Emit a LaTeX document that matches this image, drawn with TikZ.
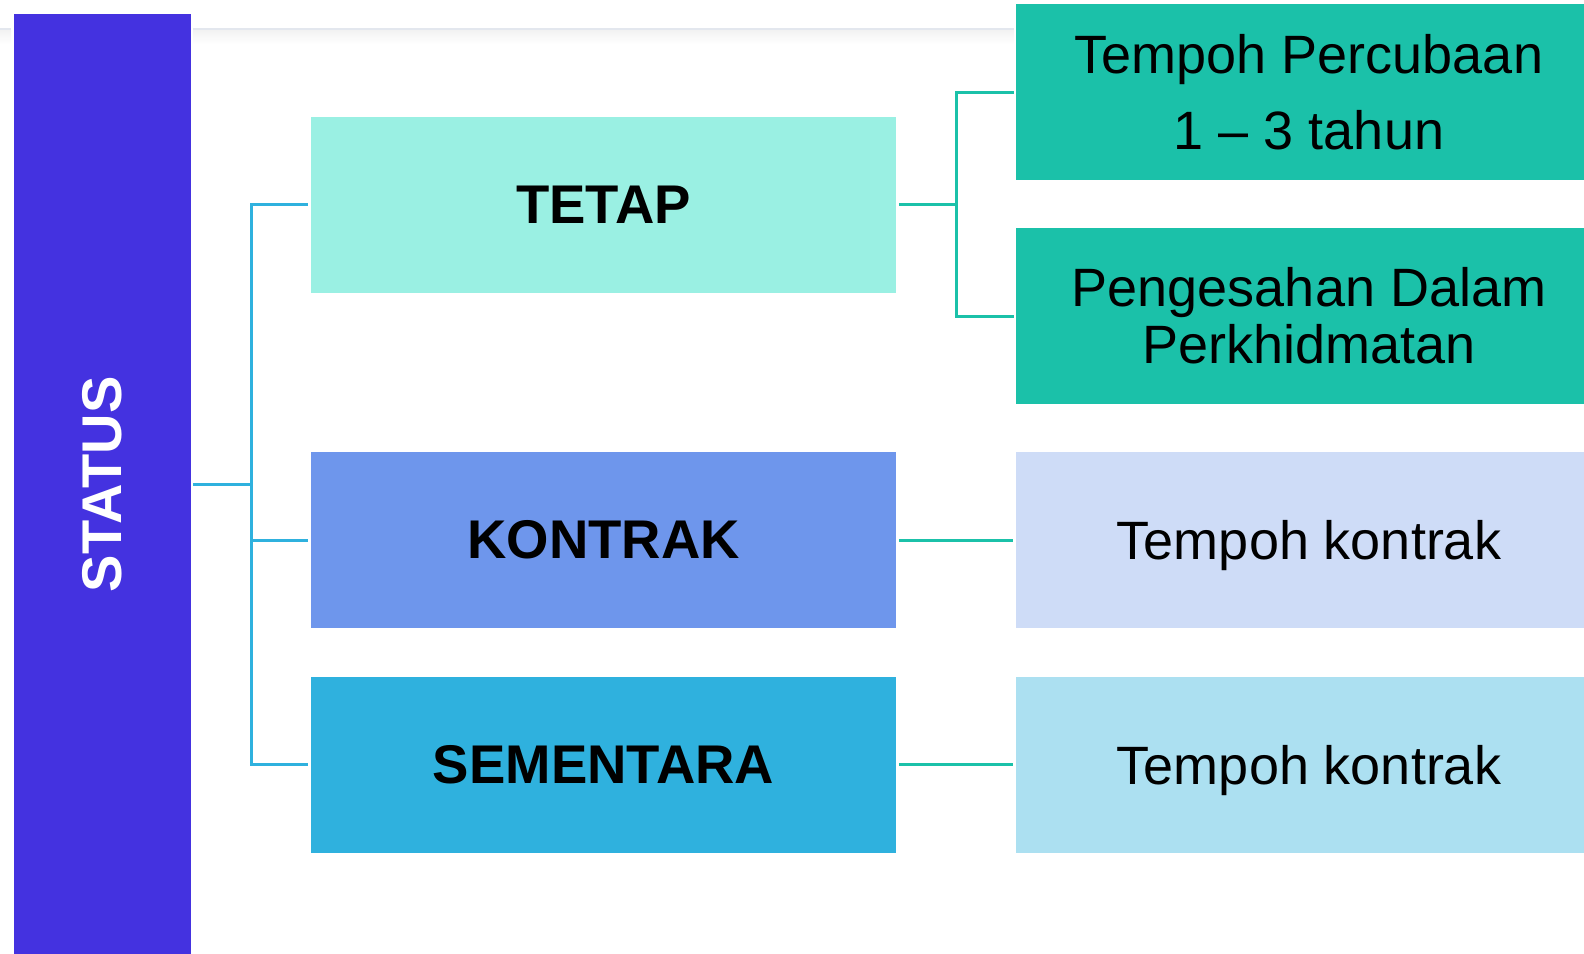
\documentclass[tikz,border=0pt]{standalone}
\usepackage{fontspec}
\setmainfont{Liberation Sans}
\definecolor{statusc}{HTML}{4432E0}
\definecolor{tetapc}{HTML}{9AF0E3}
\definecolor{kontrakc}{HTML}{6E96EC}
\definecolor{sementarac}{HTML}{2FB1DE}
\definecolor{tealc}{HTML}{1BC1A9}
\definecolor{kontraklt}{HTML}{CEDCF7}
\definecolor{sementaralt}{HTML}{ACE0F1}
\definecolor{linkblue}{HTML}{2FB1DE}
\definecolor{linkteal}{HTML}{1BC1A9}
\definecolor{rulegray}{HTML}{E3E7EE}
\begin{document}
\begin{tikzpicture}
[x=1pt,y=-1pt,%
  every node/.style={shape=rectangle,inner sep=0pt,align=center,
    font=\fontsize{54}{76}\selectfont},%
  kind/.style={minimum width=585pt,minimum height=176pt,
    font=\fontsize{54.5}{76}\selectfont\bfseries},%
  detail/.style={minimum width=586pt,minimum height=176pt},%
  blink/.style={draw=linkblue,line width=3pt},%
  tlink/.style={draw=linkteal,line width=3pt}]
\useasboundingbox (0,0) rectangle (1584,953);
\shade[top color=black!5,bottom color=white] (0,30) rectangle (11,44) (193,30) rectangle (1014,44);
\draw[rulegray,line width=2.5pt] (0,29) -- (11,29) (193,29) -- (1014,29);
\node[fill=statusc,minimum width=176.5pt,minimum height=941pt,text=white,
  font=\fontsize{56}{76}\selectfont\bfseries] (status) at (102.25,484.5) {\rotatebox{90}{STATUS}};
\node[kind,fill=tetapc] (tetap) at (603.5,204.5) {TETAP};
\node[kind,fill=kontrakc] (kontrak) at (603.5,540) {KONTRAK};
\node[kind,fill=sementarac] (sementara) at (603.5,764.5) {SEMENTARA};
\node[detail,fill=tealc] (percubaan) at (1309,92) {Tempoh Percubaan\\1 -- 3 tahun};
\node[detail,fill=tealc,font=\fontsize{54}{57}\selectfont] (pengesahan) at (1309,316) {Pengesahan Dalam\\Perkhidmatan};
\node[detail,fill=kontraklt,text depth=0pt] (tkontrak) at (1309,540) {Tempoh kontrak};
\node[detail,fill=sementaralt,text depth=0pt] (tsementara) at (1309,764.5) {Tempoh kontrak};
\coordinate (lfork) at (251,484.5);
\coordinate (rfork) at (956,204.5);
\draw[blink,shorten <=2.5pt] (status.east) -- (lfork);
\draw[blink,shorten <=3pt,shorten >=3pt] (tetap.west) -| (lfork) |- (sementara.west);
\draw[blink,shorten >=3pt] (lfork |- kontrak.west) -- (kontrak.west);
\draw[tlink,shorten <=3pt] (tetap.east) -- (rfork);
\draw[tlink,shorten <=2pt,shorten >=2pt] (percubaan.west) -| (rfork) |- (pengesahan.west);
\draw[tlink,shorten <=3pt,shorten >=3pt] (kontrak.east) -- (tkontrak.west);
\draw[tlink,shorten <=3pt,shorten >=3pt] (sementara.east) -- (tsementara.west);
\end{tikzpicture}
\end{document}
